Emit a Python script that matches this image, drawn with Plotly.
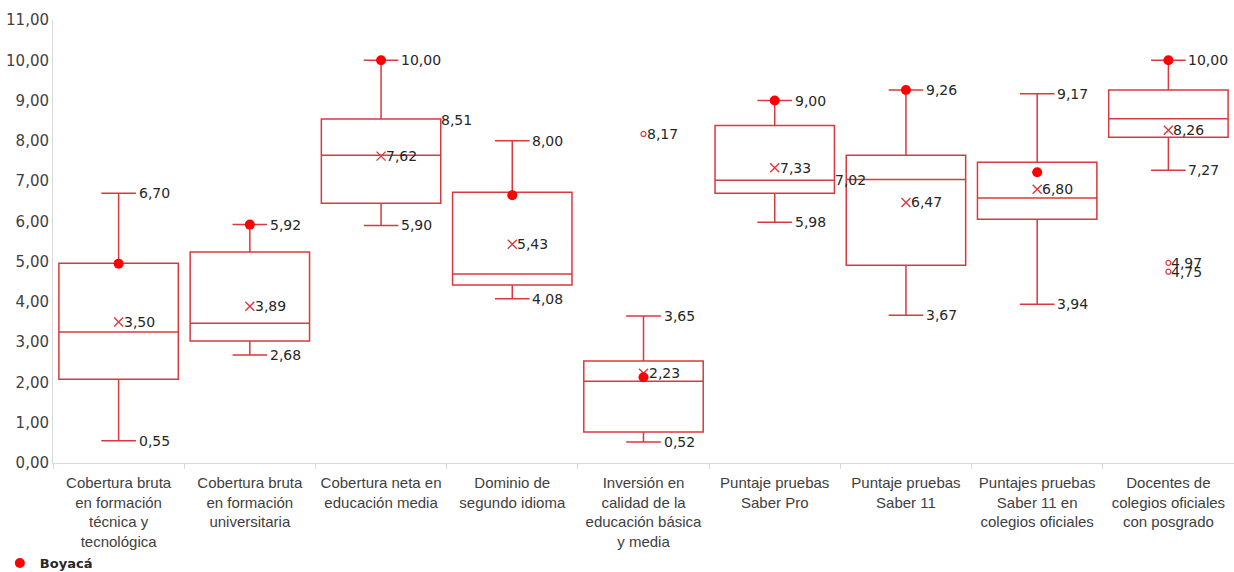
import plotly.graph_objects as go

categories = [
    "Cobertura bruta<br>en formación<br>técnica y<br>tecnológica",
    "Cobertura bruta<br>en formación<br>universitaria",
    "Cobertura neta en<br>educación media",
    "Dominio de<br>segundo idioma",
    "Inversión en<br>calidad de la<br>educación básica<br>y media",
    "Puntaje pruebas<br>Saber Pro",
    "Puntaje pruebas<br>Saber 11",
    "Puntajes pruebas<br>Saber 11 en<br>colegios oficiales",
    "Docentes de<br>colegios oficiales<br>con posgrado",
]
lower = [0.55, 2.68, 5.90, 4.08, 0.52, 5.98, 3.67, 3.94, 7.27]
q1 = [2.08, 3.03, 6.45, 4.42, 0.77, 6.70, 4.91, 6.05, 8.09]
median = [3.25, 3.47, 7.64, 4.69, 2.03, 7.02, 7.04, 6.58, 8.55]
q3 = [4.96, 5.24, 8.54, 6.72, 2.53, 8.38, 7.64, 7.47, 9.26]
upper = [6.70, 5.92, 10.00, 8.00, 3.65, 9.00, 9.26, 9.17, 10.00]
mean = [3.50, 3.89, 7.62, 5.43, 2.23, 7.33, 6.47, 6.80, 8.26]
boyaca = [4.95, 5.92, 10.00, 6.65, 2.13, 9.00, 9.26, 7.22, 10.00]

outlier_cat = [categories[4], categories[8], categories[8]]
outlier_val = [8.17, 4.97, 4.75]

edge_label_cat = [categories[2], categories[5]]
edge_label_val = [8.51, 7.02]

RED = "#D9383F"
TXT = "#262626"


def fmt(v):
    return f"{v:.2f}".replace(".", ",")


fig = go.Figure()
fig.add_trace(go.Box(
    x=categories, q1=q1, median=median, q3=q3,
    lowerfence=lower, upperfence=upper,
    fillcolor="rgba(255,255,255,0)", line=dict(color=RED, width=1.5),
    whiskerwidth=0.29, width=0.91, boxpoints=False,
    showlegend=False, hoverinfo="skip",
))
fig.add_trace(go.Scatter(
    x=categories, y=mean, mode="markers",
    marker=dict(symbol="x-thin", size=9, line=dict(color=RED, width=1.4)),
    showlegend=False, hoverinfo="skip",
))
fig.add_trace(go.Scatter(
    x=outlier_cat, y=outlier_val, mode="markers",
    marker=dict(symbol="circle-open", size=5, color=RED, line=dict(width=1.2)),
    showlegend=False, hoverinfo="skip",
))
fig.add_trace(go.Scatter(
    x=categories, y=boyaca, mode="markers", name="Boyacá",
    marker=dict(symbol="circle", size=10, color="#FF0000"),
    hoverinfo="skip",
))

ann = []
lf = dict(family="DejaVu Sans", size=14, color=TXT)
for c, u, l, m in zip(categories, upper, lower, mean):
    ann.append(dict(x=c, y=u, text=fmt(u), xanchor="left", yanchor="middle",
                    xshift=18, showarrow=False, font=lf))
    ann.append(dict(x=c, y=l, text=fmt(l), xanchor="left", yanchor="middle",
                    xshift=18, showarrow=False, font=lf))
    ann.append(dict(x=c, y=m, text=fmt(m), xanchor="left", yanchor="middle",
                    xshift=3, showarrow=False, font=lf))
for c, v in zip(outlier_cat, outlier_val):
    ann.append(dict(x=c, y=v, text=fmt(v), xanchor="left", yanchor="middle",
                    xshift=1, showarrow=False, font=lf))
for c, v in zip(edge_label_cat, edge_label_val):
    ann.append(dict(x=c, y=v, text=fmt(v), xanchor="left", yanchor="middle",
                    xshift=58, showarrow=False, font=lf))

fig.update_layout(
    width=1234, height=572,
    margin=dict(l=53, r=0, t=20, b=109, autoexpand=False),
    paper_bgcolor="white", plot_bgcolor="white",
    separators=",.",
    annotations=ann,
    showlegend=True,
    legend=dict(x=-0.045, y=-0.226, xanchor="left", yanchor="middle",
                font=dict(family="DejaVu Sans", size=13, color=TXT, weight="bold"),
                bgcolor="rgba(0,0,0,0)", itemwidth=30),
    xaxis=dict(
        type="category", categoryorder="array", categoryarray=categories,
        showgrid=False, showline=True, linecolor="#D9D9D9", linewidth=1,
        ticks="outside", tickson="boundaries", ticklen=5, tickcolor="#D9D9D9",
        ticklabelstandoff=6,
        tickfont=dict(family="Liberation Sans", size=15, color="#404040"),
        range=[-0.5, 8.5], fixedrange=True,
    ),
    yaxis=dict(
        range=[0, 11], dtick=1, tickformat=".2f",
        showgrid=False, showline=True, linecolor="#D9D9D9", linewidth=1,
        zeroline=False, ticks="",
        tickfont=dict(family="DejaVu Sans", size=15, color="#404040"),
    ),
)

fig.write_html("out.html", config={"displayModeBar": False},
               post_script="document.body.style.margin='0';")
